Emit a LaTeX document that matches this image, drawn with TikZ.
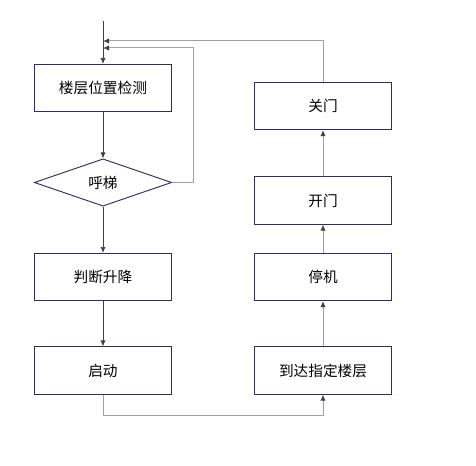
\documentclass[tikz,border=0pt]{standalone}
\usepackage{fontspec}
\setmainfont{Noto Sans CJK SC}
\usetikzlibrary{shapes.geometric}
\usetikzlibrary{arrows.meta}
\definecolor{boxline}{HTML}{2A3158}
\definecolor{darkflow}{HTML}{404040}
\definecolor{lightflow}{HTML}{A0A0A0}
\tikzset{
    stepbox/.style={draw=boxline, line width=0.7pt, minimum width=103pt, minimum height=35.5pt, inner sep=0pt, font=\fontsize{11}{13}\selectfont},
    choicebox/.style={diamond, draw=boxline, line width=0.7pt, minimum width=103pt, minimum height=35.5pt, aspect=2.9, inner sep=0pt, font=\fontsize{11}{13}\selectfont},
    flow/.style={draw=darkflow, line width=0.6pt, -{Latex[length=4.5pt,width=4pt]}},
    backflow/.style={draw=lightflow, line width=0.75pt, -{Latex[length=4.5pt,width=4pt,color=darkflow]}}
}

\begin{document}
\begin{tikzpicture}[x=0.75pt, y=-0.75pt]
    % page size
    \useasboundingbox (0,0) rectangle (476,466);
    % left column
    \node[stepbox] (detect) at (103,88) {楼层位置检测};
    \node[choicebox] (call) at (103,182.5) {呼梯};
    \node[stepbox] (judge) at (103,277) {判断升降};
    \node[stepbox] (start) at (103,370.5) {启动};
    % right column
    \node[stepbox] (arrive) at (323,370.5) {到达指定楼层};
    \node[stepbox] (stop) at (323,277) {停机};
    \node[stepbox] (open) at (323,200.5) {开门};
    \node[stepbox] (close) at (323,106) {关门};
    % merge points
    \coordinate (entry) at (103,21);
    \coordinate (joinA) at (103,41);
    \coordinate (joinB) at (103,48);
    % left column flow
    \draw[flow] (entry) -- (detect);
    \draw[flow] (detect) -- (call);
    \draw[flow] (call) -- (judge);
    \draw[flow] (judge) -- (start);
    % no call: back to detection
    \draw[backflow] (call.east) -- (193,182.5) -- (193,48) -- (joinB);
    % across the bottom
    \draw[backflow] (start.south) -- (103,416) -- (323,416) -- (arrive.south);
    % right column flow
    \draw[backflow] (arrive) -- (stop);
    \draw[backflow] (stop) -- (open);
    \draw[backflow] (open) -- (close);
    % back to the top
    \draw[backflow] (close.north) -- (323,41) -- (joinA);
\end{tikzpicture}
\end{document}
